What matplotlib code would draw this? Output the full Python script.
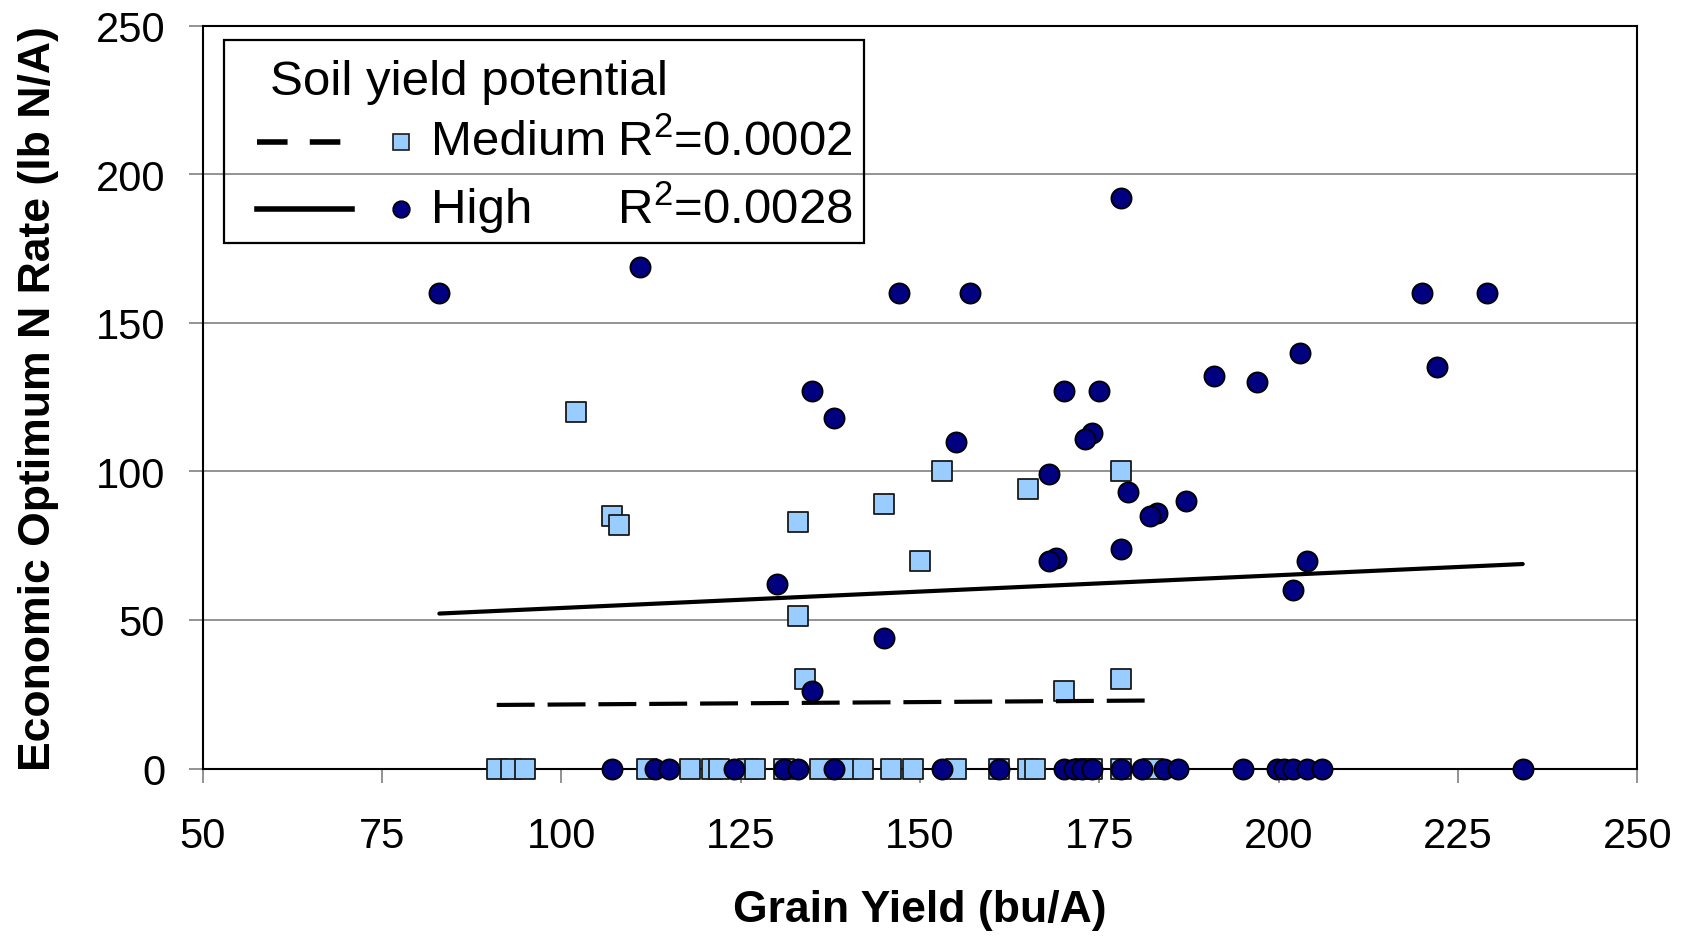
import numpy as np
import matplotlib
matplotlib.use('Agg')
import matplotlib.pyplot as plt
from matplotlib.patches import Rectangle

plt.rcParams['font.family'] = ['Liberation Sans', 'DejaVu Sans']
plt.rcParams['mathtext.fontset'] = 'custom'
plt.rcParams['mathtext.rm'] = 'Liberation Sans'
plt.rcParams['mathtext.it'] = 'Liberation Sans'

# Medium soil yield potential (grain yield bu/A, EONR lb N/A)
medium_x = [102, 107, 108, 133, 133, 134, 145, 150, 153, 165, 178, 170, 178,
            91, 93, 95, 112, 118, 121, 122, 126, 127, 131, 136, 139, 140, 142,
            146, 149, 155, 161, 165, 166, 173, 174, 178, 182.5]
medium_y = [120, 85, 82, 83, 51.5, 30, 89, 70, 100, 94, 100, 26, 30,
            0, 0, 0, 0, 0, 0, 0, 0, 0, 0, 0, 0, 0, 0,
            0, 0, 0, 0, 0, 0, 0, 0, 0, 0]

# High soil yield potential
high_x = [83, 111, 147, 157, 178, 220, 229, 203, 191, 197, 222, 135, 138, 170,
          175, 155, 174, 173, 168, 179, 183, 182, 187, 169, 168, 178, 204, 130,
          202, 145, 135,
          107, 113, 115, 124, 131, 133, 138, 153, 161, 170, 171.5, 172.6, 174,
          178, 181, 184, 186, 195, 199.7, 200.7, 202, 204, 206, 234]
high_y = [160, 169, 160, 160, 192, 160, 160, 140, 132, 130, 135, 127, 118, 127,
          127, 110, 113, 111, 99, 93, 86, 85, 90, 71, 70, 74, 70, 62,
          60, 44, 26,
          0, 0, 0, 0, 0, 0, 0, 0, 0, 0, 0, 0, 0,
          0, 0, 0, 0, 0, 0, 0, 0, 0, 0, 0]

# linear trendlines (slope, intercept) and R2 as shown
medium_fit = (0.0164, 19.9)
high_fit = (0.1104, 43.0)
medium_r2 = '0.0002'
high_r2 = '0.0028'

x_ticks = [50, 75, 100, 125, 150, 175, 200, 225, 250]
y_ticks = [0, 50, 100, 150, 200, 250]

W, H = 1690, 937
fig = plt.figure(figsize=(W / 100, H / 100), dpi=100)
ax = fig.add_axes([202.6 / W, 1 - 769.5 / H, (1637.5 - 202.6) / W, (769.5 - 26.9) / H])

for y in y_ticks[1:-1]:
    ax.axhline(y, color='#808080', lw=1.2, zorder=1)

ax.scatter(medium_x, medium_y, marker='s', s=15 ** 2, facecolor='#99ccff',
           edgecolor='#1a1a1a', linewidth=1.3, zorder=3, clip_on=False)
ax.scatter(high_x, high_y, marker='o', s=14.5 ** 2, facecolor='#000080',
           edgecolor='black', linewidth=1.3, zorder=4, clip_on=False)

xm = np.array([min(medium_x), max(medium_x)])
ax.plot(xm, medium_fit[0] * xm + medium_fit[1], color='black', lw=3,
        linestyle=(0, (9.1, 3.1)), zorder=5)
xh = np.array([min(high_x), max(high_x)])
ax.plot(xh, high_fit[0] * xh + high_fit[1], color='black', lw=3,
        solid_capstyle='round', zorder=5)

ax.set_xlim(50, 250)
ax.set_ylim(0, 250)
ax.set_xticks(x_ticks)
ax.set_yticks(y_ticks)
ax.tick_params(direction='out', length=10, width=1.2, color='#808080',
               labelsize=30, pad=17)
ax.tick_params(axis='x', pad=24)
for s in ax.spines.values():
    s.set_color('black')
    s.set_linewidth(1.5)

ax.set_xlabel('Grain Yield (bu/A)', fontsize=32, fontweight='bold', labelpad=24)
ax.set_ylabel('Economic Optimum N Rate (lb N/A)', fontsize=32, fontweight='bold',
              labelpad=26)

# legend box
lg = fig.add_axes([224 / W, 1 - 243.6 / H, 640 / W, 202.6 / H])
lg.set_xlim(0, 1)
lg.set_ylim(0, 1)
lg.axis('off')
lg.add_patch(Rectangle((0, 0), 1, 1, transform=lg.transAxes, fill=False,
                       edgecolor='black', lw=1.6, clip_on=False))
fs = 35.5
lg.text(0.0711, 0.795, 'Soil yield potential', fontsize=fs, va='center', ha='left')
lg.plot([0.052, 0.2], [0.497, 0.497], color='black', lw=4, linestyle=(0, (5.5, 4)))
lg.plot([0.2766], [0.497], marker='s', ms=12, mfc='#99ccff', mec='#1a1a1a', mew=1.2)
lg.text(0.3234, 0.497, 'Medium', fontsize=fs, va='center', ha='left')
lg.text(0.6133, 0.497, 'R$^2$=' + medium_r2, fontsize=fs, va='center', ha='left')
lg.plot([0.052, 0.2], [0.165, 0.165], color='black', lw=4)
lg.plot([0.2766], [0.165], marker='o', ms=12, mfc='#000080', mec='black', mew=1.2)
lg.text(0.3234, 0.165, 'High', fontsize=fs, va='center', ha='left')
lg.text(0.6133, 0.165, 'R$^2$=' + high_r2, fontsize=fs, va='center', ha='left')

fig.savefig('out.png', dpi=100)
